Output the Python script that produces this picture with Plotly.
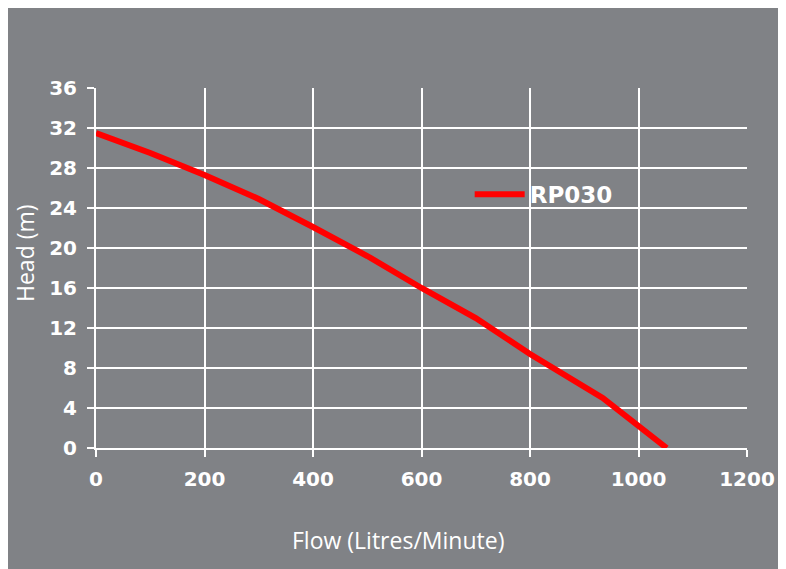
import plotly.graph_objects as go

flow = [0, 100, 200, 300, 400, 500, 600, 700, 800, 934, 1052]
head = [31.5, 29.5, 27.3, 24.9, 22.1, 19.2, 16.0, 13.0, 9.4, 5.0, 0]
series_name = "RP030"
x_ticks = [0, 200, 400, 600, 800, 1000, 1200]
y_ticks = [0, 4, 8, 12, 16, 20, 24, 28, 32, 36]

GRAY = "#808286"
tick_font = dict(family="DejaVu Sans", size=20, color="white", weight="bold")

fig = go.Figure()
fig.add_trace(go.Scatter(x=flow, y=head, mode="lines", name=series_name,
                         line=dict(color="#ff0000", width=6)))

# figure sits at an 8px page offset; plot area spans x 88..739, y 80..440 in figure px
fig.update_layout(
    width=786, height=569,
    margin=dict(l=88, r=47, t=80, b=129),
    paper_bgcolor=GRAY,
    plot_bgcolor=GRAY,
    showlegend=True,
    legend=dict(x=0.574, y=0.705, xanchor="left", yanchor="middle",
                bgcolor="rgba(0,0,0,0)", itemwidth=50,
                font=dict(family="DejaVu Sans", size=23, color="white", weight="bold")),
    annotations=[
        dict(text="Flow (Litres/Minute)", xref="paper", yref="paper",
             x=(398 - 96) / 651, y=(448 - 540) / 360, showarrow=False,
             font=dict(family="Open Sans", size=23, color="white"),
             xanchor="center", yanchor="middle"),
        dict(text="Head (m)", xref="paper", yref="paper",
             x=(25 - 96) / 651, y=(448 - 253) / 360, showarrow=False, textangle=-90,
             font=dict(family="Open Sans", size=23, color="white"),
             xanchor="center", yanchor="middle"),
    ],
)
fig.update_xaxes(range=[0, 1200], tickvals=x_ticks, showgrid=True, gridcolor="white",
                 gridwidth=2, zeroline=False, showline=True, linecolor="white", linewidth=2,
                 ticks="outside", ticklen=7, tickcolor="white", tickwidth=2,
                 ticklabelstandoff=5, tickfont=tick_font, fixedrange=True)
fig.update_yaxes(range=[0, 36], tickvals=y_ticks, showgrid=True, gridcolor="white",
                 gridwidth=2, zeroline=False, showline=True, linecolor="white", linewidth=2,
                 ticks="outside", ticklen=7, tickcolor="white", tickwidth=2,
                 ticklabelstandoff=6, tickfont=tick_font, fixedrange=True)

fig.write_html("out.html",
               post_script="document.documentElement.style.overflow='hidden';"
                           "document.body.style.overflow='hidden';")
